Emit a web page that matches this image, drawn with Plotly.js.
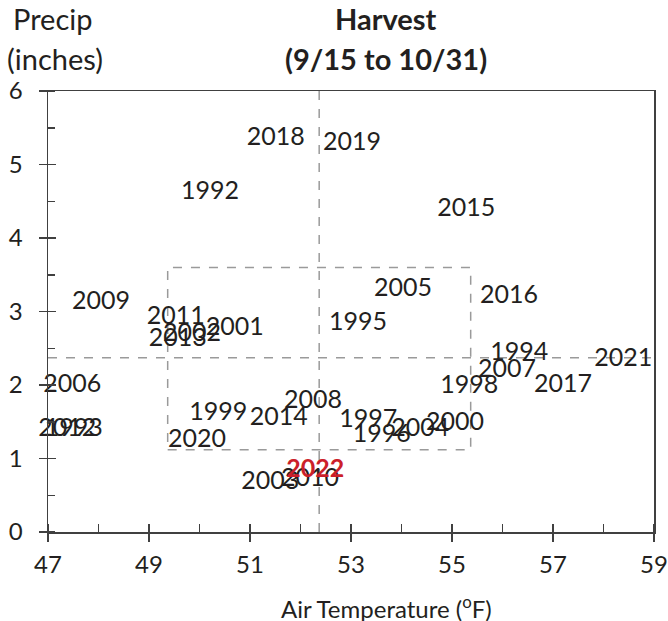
<!DOCTYPE html>
<html>
<head>
<meta charset="utf-8">
<script src="https://cdn.plot.ly/plotly-3.0.1.min.js"></script>
<style>html,body{margin:0;padding:0;background:#fff;}#chart{width:668px;height:621px;}</style>
</head>
<body>
<div id="chart"></div>
<script>
// Harvest season (9/15 to 10/31): year, mean air temperature (°F), precipitation (inches)
const years = ["2018","2019","1992","2015","2009","2005","2016","2011","2001","2002","2013","1995",
  "2006","2012","1993","1999","2014","2020","2008","1997","1996","2004","2000","1998",
  "1994","2007","2017","2021","2010","2003"];
const temps = [51.51,53.02,50.21,55.28,48.05,54.03,56.13,49.53,50.70,49.85,49.57,53.14,
  47.48,47.38,47.51,50.37,51.57,49.95,52.25,53.34,53.61,54.37,55.06,55.34,
  56.33,56.09,57.20,58.39,52.19,51.40];
const precips = [5.35,5.28,4.61,4.38,3.12,3.29,3.20,2.91,2.76,2.68,2.61,2.84,
  1.99,1.39,1.39,1.61,1.54,1.24,1.77,1.51,1.31,1.39,1.47,1.97,
  2.42,2.19,1.99,2.34,0.71,0.67];
const currentYear = ["2022"];
const currentTemp = [52.29];
const currentPrecip = [0.84];

// Long-term means and the dashed "normal" box
const meanTemp = 52.37;
const meanPrecip = 2.37;
const boxTemp = [49.37, 55.37];
const boxPrecip = [1.12, 3.60];

const xTicks = [47,49,51,53,55,57,59];
const yTicks = [0,1,2,3,4,5,6];

const txtColor = "#231f20";
const axColor = "#404040";
const dashColor = "#9a9a9a";
const FONT = "Lato, 'Open Sans', sans-serif";

const traces = [
  {x: temps, y: precips, text: years, type: "scatter", mode: "text",
   textposition: "middle center", textfont: {family: FONT, size: 25, color: txtColor},
   hoverinfo: "none", showlegend: false, cliponaxis: false},
  {x: currentTemp, y: currentPrecip, text: currentYear, type: "scatter", mode: "text",
   textposition: "middle center", textfont: {family: FONT, size: 25, color: "#cc1f2a", weight: "bold"},
   texttemplate: "<b>%{text}</b>",
   hoverinfo: "none", showlegend: false, cliponaxis: false}
];

const dash = {color: dashColor, width: 1.5, dash: "dash"};
const shapes = [
  {type: "line", xref: "x", yref: "paper", x0: meanTemp, x1: meanTemp, y0: 0, y1: 1, line: dash, layer: "below"},
  {type: "line", xref: "paper", yref: "y", x0: 0, x1: 1, y0: meanPrecip, y1: meanPrecip, line: dash, layer: "below"},
  {type: "rect", xref: "x", yref: "y", x0: boxTemp[0], x1: boxTemp[1], y0: boxPrecip[0], y1: boxPrecip[1], line: dash, layer: "below"}
];

const layout = {
  width: 668, height: 621,
  margin: {l: 48, r: 14, t: 91, b: 89},
  paper_bgcolor: "#fff", plot_bgcolor: "#fff",
  font: {family: FONT, color: txtColor, size: 24},
  showlegend: false,
  xaxis: {
    range: [47, 59], tickvals: xTicks, ticktext: xTicks.map(String),
    showgrid: false, zeroline: false, showline: true, linecolor: axColor, linewidth: 1.5, mirror: true,
    ticks: "outside", ticklen: 8, tickwidth: 1.5, tickcolor: axColor,
    minor: {ticks: "inside", dtick: 1, tick0: 47, ticklen: 8, tickwidth: 1.5, tickcolor: axColor, showgrid: false},
    tickfont: {family: FONT, size: 24, color: txtColor}, ticklabelstandoff: 3, fixedrange: true
  },
  xaxis2: {
    overlaying: "x", range: [47, 59], tickvals: xTicks, showticklabels: false,
    showgrid: false, zeroline: false, showline: false,
    ticks: "inside", ticklen: 8, tickwidth: 1.5, tickcolor: axColor, fixedrange: true
  },
  yaxis: {
    range: [0, 6], tickvals: yTicks, ticktext: yTicks.map(String),
    showgrid: false, zeroline: false, showline: true, linecolor: axColor, linewidth: 1.5, mirror: true,
    ticks: "outside", ticklen: 8, tickwidth: 1.5, tickcolor: axColor,
    minor: {ticks: "inside", dtick: 0.5, tick0: 0, ticklen: 7, tickwidth: 1.5, tickcolor: axColor, showgrid: false},
    tickfont: {family: FONT, size: 24, color: txtColor}, ticklabelstandoff: 11, fixedrange: true
  },
  yaxis2: {
    overlaying: "y", range: [0, 6], tickvals: yTicks, showticklabels: false,
    showgrid: false, zeroline: false, showline: false,
    ticks: "inside", ticklen: 8, tickwidth: 1.5, tickcolor: axColor, fixedrange: true
  },
  shapes: shapes,
  annotations: [
    {text: "<b>Harvest</b>", xref: "paper", yref: "paper", x: 0.558, y: 1.1655, xanchor: "center", yanchor: "middle",
     showarrow: false, font: {family: FONT, size: 29, color: txtColor}},
    {text: "<b>(9/15 to 10/31)</b>", xref: "paper", yref: "paper", x: 0.558, y: 1.0748, xanchor: "center", yanchor: "middle",
     showarrow: false, font: {family: FONT, size: 29, color: txtColor}},
    {text: "Precip", xref: "paper", yref: "paper", x: 0.007, y: 1.1655, xanchor: "center", yanchor: "middle",
     showarrow: false, font: {family: FONT, size: 29, color: txtColor}},
    {text: "(inches)", xref: "paper", yref: "paper", x: 0.012, y: 1.0748, xanchor: "center", yanchor: "middle",
     showarrow: false, font: {family: FONT, size: 29, color: txtColor}},
    {text: "Air Temperature (<sup>o</sup>F)", xref: "paper", yref: "paper", x: 0.559, y: -0.170, xanchor: "center", yanchor: "middle",
     showarrow: false, font: {family: FONT, size: 24, color: txtColor}}
  ]
};

// Empty trace on the overlay axes so their inside ticks render (makes major ticks cross the axis)
traces.push({x: [], y: [], xaxis: "x2", yaxis: "y2", type: "scatter", mode: "markers", showlegend: false, hoverinfo: "none"});

Plotly.newPlot("chart", traces, layout, {displayModeBar: false, staticPlot: true});
</script>
</body>
</html>
